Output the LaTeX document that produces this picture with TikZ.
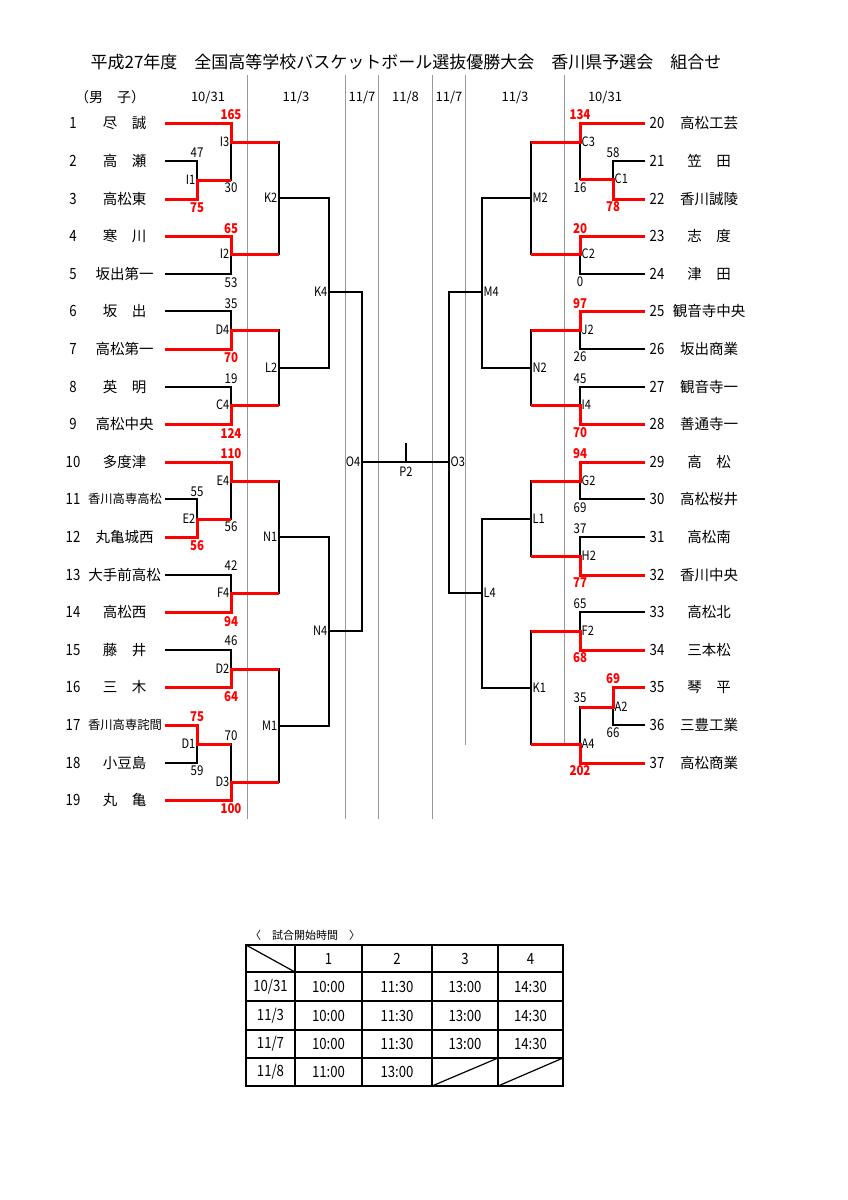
\documentclass[tikz,border=0pt]{standalone}
\usepackage{fontspec}
\setmainfont{Noto Sans CJK JP}
\newfontfamily\nar[FakeStretch=0.85]{Noto Sans CJK JP}
\begin{document}
\begin{tikzpicture}[x=1pt,y=-1pt,
  blk/.style={line width=2pt, black},
  win/.style={line width=3pt, red},
  gridl/.style={line width=1pt, black!40},
  team/.style={font=\fontsize{14.5}{15}\selectfont, inner sep=0pt},
  teams/.style={font=\fontsize{12.3}{13}\selectfont, inner sep=0pt},
  num/.style={font=\nar\fontsize{15.5}{15}\selectfont, inner sep=0pt},
  scb/.style={font=\nar\fontsize{13.5}{13}\selectfont, inner sep=0pt},
  scr/.style={font=\nar\bfseries\fontsize{13.5}{13}\selectfont, inner sep=0pt, text=red},
  mlab/.style={font=\nar\fontsize{13}{12}\selectfont, inner sep=0.5pt},
  datel/.style={font=\fontsize{13}{13}\selectfont, inner sep=0pt},
  tab/.style={line width=1.5pt, black},
  tabt/.style={font=\nar\fontsize{15.5}{15}\selectfont, inner sep=0pt}]
\useasboundingbox (0,0) rectangle (848,1200);
\fill[white] (0,0) rectangle (848,1200);

% title and headers
\node[font=\fontsize{17}{17}\selectfont, inner sep=0pt] (title) at (406,62) {平成27年度　全国高等学校バスケットボール選抜優勝大会　香川県予選会　組合せ};
\node[font=\fontsize{14}{14}\selectfont, inner sep=0pt] (sex) at (110,97) {（男　子）};
\foreach \x/\d [count=\k] in {208/10\slash 31,296/11\slash 3,362/11\slash 7,405.5/11\slash 8,449/11\slash 7,515/11\slash 3,605/10\slash 31}
  \node[datel] (d\k) at (\x,97) {\d};

% grey column lines
\foreach \x in {247.5,345.5,378.5,432.5} \draw[gridl] (\x,75) -- (\x,819);
\foreach \x in {465.5,564.5} \draw[gridl] (\x,75) -- (\x,745);

% team coordinates (row positions)
\foreach \r/\y in {1/123,2/161,3/199,4/236,5/274,6/311,7/349,8/387,9/424,10/462,11/499,12/537,13/575,14/612,15/650,16/687,17/725,18/763,19/800}
  {\coordinate (t\r) at (165,\y);
   \pgfmathtruncatemacro{\rr}{\r+19}
   \coordinate (t\rr) at (645,\y);}

% team labels left
\foreach \i/\n in {1/尽　誠,2/高　瀬,3/高松東,4/寒　川,5/坂出第一,6/坂　出,7/高松第一,8/英　明,9/高松中央,10/多度津,12/丸亀城西,13/大手前高松,14/高松西,15/藤　井,16/三　木,18/小豆島,19/丸　亀}
  \node[team] (nm\i) at (124.5,0 |- t\i) {\n};
\node[teams] (nm11) at (125,0 |- t11) {香川高専高松};
\node[teams] (nm17) at (125,0 |- t17) {香川高専詫間};
\foreach \i in {1,...,19} \node[num] (n\i) at (73,0 |- t\i) {\i};

% team labels right
\foreach \i/\n in {20/高松工芸,21/笠　田,22/香川誠陵,23/志　度,24/津　田,25/観音寺中央,26/坂出商業,27/観音寺一,28/善通寺一,29/高　松,30/高松桜井,31/高松南,32/香川中央,33/高松北,34/三本松,35/琴　平,36/三豊工業,37/高松商業}
  {\node[num] (n\i) at (657,0 |- t\i) {\i};
   \node[team] (nm\i) at (709,0 |- t\i) {\n};}

% junctions left
\coordinate (I1) at (197,180);
\coordinate (I3) at (231,142);
\coordinate (I2) at (231,254);
\coordinate (K2) at (279,198);
\coordinate (D4) at (231,330);
\coordinate (C4) at (231,405);
\coordinate (L2) at (279,368);
\coordinate (K4) at (329,292);
\coordinate (E4) at (231,481);
\coordinate (E2) at (197,519);
\coordinate (F4) at (231,593);
\coordinate (N1) at (279,537);
\coordinate (D2) at (231,669);
\coordinate (D1) at (197,744);
\coordinate (D3) at (231,782);
\coordinate (M1) at (279,726);
\coordinate (N4) at (329,631);
\coordinate (O4) at (362,462);
\coordinate (P2) at (406,462);
\coordinate (O3) at (449,462);
% junctions right
\coordinate (C1) at (613,179);
\coordinate (C3) at (580,142);
\coordinate (C2) at (580,254);
\coordinate (M2) at (531,198);
\coordinate (M4) at (482,292);
\coordinate (J2) at (580,330);
\coordinate (I4) at (580,405);
\coordinate (N2) at (531,368);
\coordinate (G2) at (580,481);
\coordinate (H2) at (580,556);
\coordinate (L1) at (531,519);
\coordinate (L4) at (482,593);
\coordinate (F2) at (580,631);
\coordinate (A2) at (613,707);
\coordinate (A4) at (580,744);
\coordinate (K1) at (531,688);

% black bracket
\foreach \c/\p in {t1/I3,t2/I1,t3/I1,I1/I3,I3/K2,t4/I2,t5/I2,I2/K2,K2/K4,t6/D4,t7/D4,t8/C4,t9/C4,D4/L2,C4/L2,L2/K4,K4/O4,
  t10/E4,t11/E2,t12/E2,E2/E4,E4/N1,t13/F4,t14/F4,F4/N1,N1/N4,t15/D2,t16/D2,D2/M1,t17/D1,t18/D1,D1/D3,t19/D3,D3/M1,M1/N4,N4/O4,
  t20/C3,t21/C1,t22/C1,C1/C3,C3/M2,t23/C2,t24/C2,C2/M2,M2/M4,t25/J2,t26/J2,t27/I4,t28/I4,J2/N2,I4/N2,N2/M4,M4/O3,
  t29/G2,t30/G2,t31/H2,t32/H2,G2/L1,H2/L1,L1/L4,t33/F2,t34/F2,F2/K1,t35/A2,t36/A2,A2/A4,t37/A4,A4/K1,K1/L4,L4/O3}
  \draw[blk] (\c) -| (\p);
\draw[blk] (O4) -- (P2) -- (O3);
\draw[blk] (P2) -- ++(0,-19);

% winners in red
\foreach \w/\m/\p in {t1/I3/K2,t3/I1/I3,t4/I2/K2,t7/D4/L2,t9/C4/L2,t10/E4/N1,t12/E2/E4,t14/F4/N1,t16/D2/M1,t17/D1/D3,t19/D3/M1,
  t20/C3/M2,t22/C1/C3,t23/C2/M2,t25/J2/N2,t28/I4/N2,t29/G2/L1,t32/H2/L1,t34/F2/K1,t35/A2/A4,t37/A4/K1}
  \draw[win] (\w) -| (\m) -- (\m -| \p);

% match labels
\foreach \m in {I1,I3,I2,K2,D4,C4,L2,K4,E4,E2,F4,N1,D2,D1,D3,M1,N4,O4}
  \node[mlab, anchor=east] (lab\m) at ([xshift=-1pt]\m) {\m};
\foreach \m in {C1,C3,C2,M2,M4,J2,I4,N2,G2,H2,L1,L4,F2,A2,A4,K1,O3}
  \node[mlab, anchor=west] (lab\m) at ([xshift=1pt]\m) {\m};
\node[mlab] (labP2) at (406,472) {P2};

% scores
\foreach \x/\y/\s/\st [count=\k] in {197/153/47/scb,197/207.5/75/scr,231/115/165/scr,231/188/30/scb,231/229/65/scr,231/282.5/53/scb,
  231/304/35/scb,231/357.5/70/scr,231/379/19/scb,231/433/124/scr,231/453.5/110/scr,231/527/56/scb,197/492/55/scb,197/545.5/56/scr,
  231/566/42/scb,231/621.5/94/scr,231/641/46/scb,231/696.5/64/scr,197/716.5/75/scr,197/770.5/59/scb,231/736/70/scb,231/809/100/scr,
  580/115/134/scr,580/187.5/16/scb,613/153/58/scb,613/207/78/scr,580/229/20/scr,580/282/0/scb,580/304/97/scr,580/357/26/scb,
  580/379/45/scb,580/433/70/scr,580/453.5/94/scr,580/508/69/scb,580/529/37/scb,580/583/77/scr,580/604/65/scb,580/658/68/scr,
  613/679/69/scr,613/732.5/66/scb,580/698/35/scb,580/771/202/scr}
  \node[\st] (sc\k) at (\x,\y) {\s};

% start-time table
\node[font=\fontsize{11}{11}\selectfont, inner sep=0pt] (cap) at (305,935) {〈　試合開始時間　〉};
\draw[tab, line width=1.8pt] (246,945) rectangle (563,1086);
\foreach \x in {295,362,432,498} \draw[tab] (\x,945) -- (\x,1086);
\foreach \y in {972,1001,1030,1058} \draw[tab] (246,\y) -- (563,\y);
\draw[line width=1.2pt] (246,945) -- (295,972);
\draw[line width=1.2pt] (432,1086) -- (498,1058);
\draw[line width=1.2pt] (498,1086) -- (563,1058);
\foreach \x/\s [count=\k] in {328.5/1,397/2,465/3,530.5/4}
  \node[tabt] (h\k) at (\x,958.5) {\s};
\foreach \y/\d/\a/\b/\c/\e [count=\r] in {986.5/10\slash 31/10:00/11:30/13:00/14:30,1015.5/11\slash 3/10:00/11:30/13:00/14:30,1044/11\slash 7/10:00/11:30/13:00/14:30}
  {\node[tabt] (r\r c0) at (270.5,\y) {\d};
   \node[tabt] (r\r c1) at (328.5,\y) {\a};
   \node[tabt] (r\r c2) at (397,\y) {\b};
   \node[tabt] (r\r c3) at (465,\y) {\c};
   \node[tabt] (r\r c4) at (530.5,\y) {\e};}
\node[tabt] (r4c0) at (270.5,1072) {11/8};
\node[tabt] (r4c1) at (328.5,1072) {11:00};
\node[tabt] (r4c2) at (397,1072) {13:00};
\end{tikzpicture}
\end{document}
